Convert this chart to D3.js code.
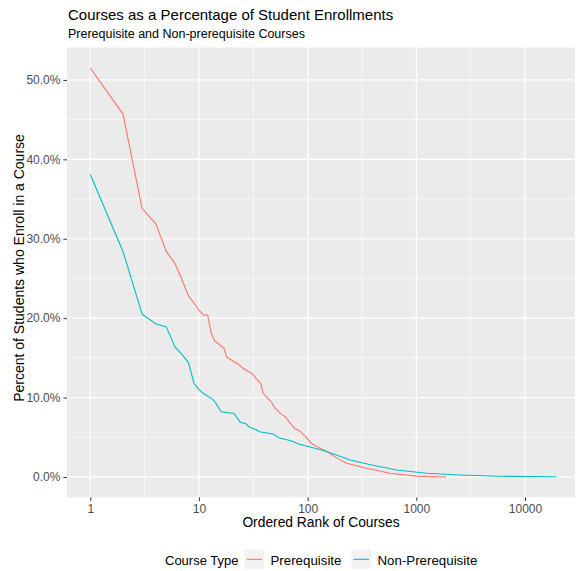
<!DOCTYPE html>
<html><head><meta charset="utf-8">
<script src="https://cdn.jsdelivr.net/npm/d3@7"></script>
<style>
body{margin:0;background:#fff;}
text{font-family:"Liberation Sans",Arial,sans-serif;}
</style></head>
<body><svg id="c" width="579" height="571"></svg>
<script>
const prereqRank = [1,2,3,4,5,6,7,8,9,10,11,12,13,14,15,17,18,20,23,26,31,34,37,39,43,46,50,56,62,69,76,85,95,108,130,150,185,228,350,570,1000,1900];
const prereqPct  = [51.5,45.7,33.8,31.9,28.4,26.9,24.8,22.8,21.9,21.0,20.4,20.4,18.1,17.1,16.8,16.2,15.1,14.7,14.2,13.6,13.0,12.3,11.8,10.5,9.9,9.5,8.7,8.0,7.6,6.8,6.1,5.8,5.1,4.25,3.6,3.2,2.4,1.72,1.1,0.47,0.1,0.0];
const nonRank = [1,2,3,4,5,6,7,8,9,10,11,13,14,16,21,24,27,29,34,36,48,55,69,85,98,150,250,390,660,1250,2500,5800,19500];
const nonPct  = [38.1,28.4,20.5,19.3,18.9,16.4,15.4,14.4,11.8,11.0,10.5,9.9,9.5,8.2,8.0,6.9,6.7,6.3,5.9,5.7,5.4,4.9,4.6,4.1,3.9,3.2,2.1,1.5,0.88,0.46,0.25,0.08,0.02];
const xTicks = [1,10,100,1000,10000];
const xMinor = [Math.sqrt(10),Math.sqrt(1000),Math.sqrt(100000),Math.sqrt(10000000)];
const yTicks = [0,10,20,30,40,50];
const yMinor = [5,15,25,35,45];
const seriesNames = ["Prerequisite","Non-Prerequisite"];
const colors = ["#F8766D","#00BFC4"];

const svg = d3.select("#c");
const L=67,R=575,T=47.6,B=497.4;
const x = d3.scaleLog().domain([0.6107,28840]).range([L,R]);
const y = d3.scaleLinear().domain([-2.575,54.07]).range([B,T]);

svg.append("rect").attr("x",L).attr("y",T).attr("width",R-L).attr("height",B-T).attr("fill","#EBEBEB");
const g = svg.append("g");
yMinor.forEach(v=>g.append("line").attr("x1",L).attr("x2",R).attr("y1",y(v)).attr("y2",y(v)).attr("stroke","#fff").attr("stroke-width",0.6));
xMinor.forEach(v=>g.append("line").attr("y1",T).attr("y2",B).attr("x1",x(v)).attr("x2",x(v)).attr("stroke","#fff").attr("stroke-width",0.6));
yTicks.forEach(v=>g.append("line").attr("x1",L).attr("x2",R).attr("y1",y(v)).attr("y2",y(v)).attr("stroke","#fff").attr("stroke-width",1.2));
xTicks.forEach(v=>g.append("line").attr("y1",T).attr("y2",B).attr("x1",x(v)).attr("x2",x(v)).attr("stroke","#fff").attr("stroke-width",1.2));

const line = d3.line().x(d=>x(d[0])).y(d=>y(d[1]));
const data = [d3.zip(prereqRank,prereqPct), d3.zip(nonRank,nonPct)];
data.forEach((d,i)=>svg.append("path").attr("d",line(d)).attr("fill","none").attr("stroke",colors[i]).attr("stroke-width",1.1));

const xa = svg.append("g").attr("transform",`translate(0,${B})`)
  .call(d3.axisBottom(x).tickValues(xTicks).tickFormat(d3.format("d")).tickSize(3.6).tickPadding(3));
const ya = svg.append("g").attr("transform",`translate(${L},0)`)
  .call(d3.axisLeft(y).tickValues(yTicks).tickFormat(d=>d3.format(".1f")(d)+"%").tickSize(3.6).tickPadding(3));
[xa,ya].forEach(a=>{a.select(".domain").remove();
  a.selectAll("line").attr("stroke","#333");
  a.selectAll("text").attr("fill","#4D4D4D").style("font-size","12px").style("font-family","'Liberation Sans',Arial,sans-serif");});

svg.append("text").attr("x",68).attr("y",20).style("font-size","15px").attr("fill","#000").text("Courses as a Percentage of Student Enrollments");
svg.append("text").attr("x",68).attr("y",38).style("font-size","12.5px").attr("fill","#000").text("Prerequisite and Non-prerequisite Courses");
svg.append("text").attr("x",(L+R)/2).attr("y",527).attr("text-anchor","middle").style("font-size","13.8px").text("Ordered Rank of Courses");
svg.append("text").attr("transform",`translate(24,268) rotate(-90)`).attr("text-anchor","middle").style("font-size","14px").text("Percent of Students who Enroll in a Course");

// legend
svg.append("text").attr("x",165).attr("y",565).style("font-size","13px").text("Course Type");
const keyX=[244.5,351.5];
seriesNames.forEach((n,i)=>{
  svg.append("rect").attr("x",keyX[i]).attr("y",549.5).attr("width",19.5).attr("height",19.5).attr("fill","#F2F2F2");
  svg.append("line").attr("x1",keyX[i]+2).attr("x2",keyX[i]+17.5).attr("y1",559.3).attr("y2",559.3).attr("stroke",colors[i]).attr("stroke-width",1.1);
  svg.append("text").attr("x",keyX[i]+26).attr("y",565).style("font-size","13.3px").text(n);
});
</script></body></html>
